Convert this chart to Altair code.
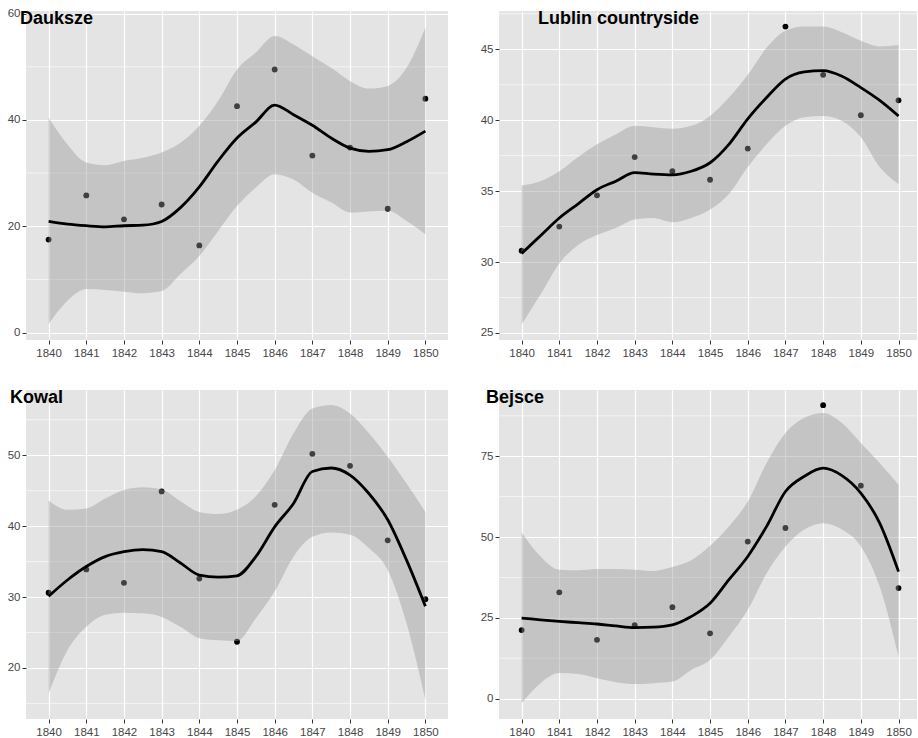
import altair as alt
import pandas as pd

# observation years (points) and the x positions at which the smoothed fit is given
YEARS = [1840, 1841, 1842, 1843, 1844, 1845, 1846, 1847, 1848, 1849, 1850]
FIT_X = [1840, 1840.5, 1841, 1841.5, 1842, 1842.5, 1843, 1843.5, 1844, 1844.5,
         1845, 1845.5, 1846, 1846.5, 1847, 1847.5, 1848, 1848.5, 1849, 1849.5, 1850]

# --- Dauksze ---
DAUKSZE_PTS = [17.5, 25.8, 21.3, 24.1, 16.4, 42.6, 49.5, 33.3, 34.8, 23.3, 44.0]
DAUKSZE_FIT = [20.9, 20.4, 20.1, 19.9, 20.1, 20.2, 20.9, 23.5, 27.4, 32.3, 36.6,
               39.6, 42.8, 41.0, 39.0, 36.6, 34.7, 34.1, 34.4, 35.9, 37.9]
DAUKSZE_HI = [40.4, 35.4, 32.0, 31.5, 32.3, 32.9, 33.9, 35.7, 38.9, 43.6, 49.5,
              52.7, 55.8, 54.2, 52.0, 49.8, 47.3, 45.9, 46.4, 49.8, 57.4]
DAUKSZE_LO = [1.6, 6.0, 8.2, 8.0, 7.7, 7.4, 7.8, 11.0, 14.4, 19.1, 23.8,
              27.3, 29.8, 28.8, 26.3, 24.5, 22.6, 22.8, 22.9, 21.0, 18.5]

# --- Lublin countryside ---
LUBLIN_PTS = [30.8, 32.5, 34.7, 37.4, 36.4, 35.8, 38.0, 46.6, 43.2, 40.35, 41.4]
LUBLIN_FIT = [30.6, 31.85, 33.1, 34.1, 35.1, 35.7, 36.3, 36.2, 36.15, 36.4, 37.0,
              38.3, 40.1, 41.6, 42.9, 43.4, 43.5, 43.1, 42.3, 41.4, 40.3]
LUBLIN_HI = [35.4, 35.7, 36.4, 37.4, 38.3, 39.0, 39.6, 39.5, 39.4, 39.6, 40.3,
             41.6, 43.2, 45.1, 46.3, 46.6, 46.6, 46.2, 45.6, 45.2, 45.3]
LUBLIN_LO = [25.6, 27.7, 29.9, 31.2, 31.9, 32.4, 33.0, 33.1, 32.8, 33.1, 33.7,
             34.8, 36.7, 38.3, 39.6, 40.2, 40.3, 39.95, 38.8, 36.7, 35.5]

# --- Kowal ---
KOWAL_PTS = [30.6, 33.9, 32.0, 44.9, 32.6, 23.7, 43.0, 50.2, 48.5, 38.0, 29.7]
KOWAL_FIT = [30.1, 32.4, 34.3, 35.7, 36.4, 36.7, 36.4, 34.8, 33.1, 32.8, 33.0,
             35.7, 39.9, 43.2, 47.7, 48.2, 47.2, 44.6, 40.9, 35.2, 28.7]
KOWAL_HI = [43.6, 42.3, 42.5, 43.9, 45.1, 45.5, 45.2, 43.5, 42.0, 41.7, 42.3,
            44.2, 47.9, 53.1, 56.6, 57.1, 55.9, 53.1, 49.8, 46.0, 42.0]
KOWAL_LO = [16.4, 22.5, 25.8, 27.5, 27.8, 27.7, 27.2, 25.8, 24.2, 23.9, 23.8,
            27.0, 30.8, 35.7, 38.5, 39.1, 38.8, 36.9, 33.8, 26.3, 15.5]

# --- Bejsce ---
BEJSCE_PTS = [21.2, 32.9, 18.2, 22.7, 28.3, 20.2, 48.6, 52.8, 90.8, 65.9, 34.2]
BEJSCE_FIT = [24.9, 24.4, 23.9, 23.5, 23.1, 22.5, 22.0, 22.1, 22.8, 25.4, 29.5,
              36.8, 44.0, 53.3, 64.1, 68.8, 71.3, 69.0, 63.6, 54.3, 39.3]
BEJSCE_HI = [51.5, 44.0, 39.9, 39.7, 40.1, 40.1, 39.9, 39.5, 40.7, 42.8, 47.3,
             53.3, 61.0, 72.9, 82.2, 86.9, 88.4, 85.3, 79.1, 72.9, 66.2]
BEJSCE_LO = [-1.4, 4.8, 7.9, 7.6, 6.3, 5.1, 4.5, 4.8, 5.3, 8.9, 12.0,
             19.2, 27.5, 38.8, 47.1, 52.3, 54.3, 52.3, 47.1, 34.7, 13.0]

# y-axis breaks (major) and minor gridline positions per panel
DAUKSZE_TICKS, DAUKSZE_MINOR = [0, 20, 40, 60], [10, 30, 50]
LUBLIN_TICKS, LUBLIN_MINOR = [25, 30, 35, 40, 45], [27.5, 32.5, 37.5, 42.5, 47.5]
KOWAL_TICKS, KOWAL_MINOR = [20, 30, 40, 50], [15, 25, 35, 45, 55]
BEJSCE_TICKS, BEJSCE_MINOR = [0, 25, 50, 75], [12.5, 37.5, 62.5, 87.5]

PANEL_H = 329
FONT = "Liberation Sans"


def panel(name, pts, fit, lo, hi, y_domain, y_ticks, y_minor,
          x_domain, width, label_x, label_y):
    pts_df = pd.DataFrame({"year": YEARS, "value": pts})
    fit_df = pd.DataFrame({"year": FIT_X, "fit": fit, "lo": lo, "hi": hi})
    minor_df = pd.DataFrame({"v": y_minor})
    name_df = pd.DataFrame({"label": [name]})

    x_scale = alt.Scale(domain=x_domain, nice=False, zero=False)
    x_axis = alt.Axis(values=YEARS, format="d", title=None, grid=True)
    y_scale = alt.Scale(domain=y_domain, nice=False, zero=False)
    y_axis = alt.Axis(values=y_ticks, title=None, grid=True)

    def X(field):
        return alt.X(field, type="quantitative", scale=x_scale, axis=x_axis)

    def Y(field):
        return alt.Y(field, type="quantitative", scale=y_scale, axis=y_axis)

    minor = alt.Chart(minor_df).mark_rule(color="white", strokeWidth=0.6).encode(y=Y("v"))
    points = alt.Chart(pts_df).mark_circle(size=34, color="black", opacity=1).encode(
        x=X("year"), y=Y("value"))
    band = alt.Chart(fit_df).mark_area(color="#999999", opacity=0.42, interpolate="monotone").encode(
        x=X("year"), y=Y("lo"), y2="hi")
    line = alt.Chart(fit_df).mark_line(color="black", strokeWidth=2.8, interpolate="monotone").encode(
        x=X("year"), y=Y("fit"))
    # panel heading, placed in the top-left corner of the panel
    heading = alt.Chart(name_df).mark_text(
        align="left", baseline="alphabetic", fontSize=18, font=FONT,
        fontWeight="bold", color="black",
    ).encode(text="label:N", x=alt.value(label_x), y=alt.value(label_y))

    return alt.layer(minor, points, band, line, heading).properties(width=width, height=PANEL_H)


p1 = panel("Dauksze", DAUKSZE_PTS, DAUKSZE_FIT, DAUKSZE_LO, DAUKSZE_HI,
           [-1.4, 60.5], DAUKSZE_TICKS, DAUKSZE_MINOR, [1839.4, 1850.6], 422, -6, 13.3)
p2 = panel("Lublin countryside", LUBLIN_PTS, LUBLIN_FIT, LUBLIN_LO, LUBLIN_HI,
           [24.5, 47.7], LUBLIN_TICKS, LUBLIN_MINOR, [1839.4, 1850.49], 418, 39, 13.3)
p3 = panel("Kowal", KOWAL_PTS, KOWAL_FIT, KOWAL_LO, KOWAL_HI,
           [12.8, 59.2], KOWAL_TICKS, KOWAL_MINOR, [1839.4, 1850.6], 422, -16, 13)
p4 = panel("Bejsce", BEJSCE_PTS, BEJSCE_FIT, BEJSCE_LO, BEJSCE_HI,
           [-6.3, 95.5], BEJSCE_TICKS, BEJSCE_MINOR, [1839.4, 1850.49], 418, -13, 13)

chart = (
    alt.concat(p1, p2, p3, p4, columns=2, spacing={"row": 50, "column": 51}, bounds="flush")
    .properties(padding={"left": 7, "top": 7, "right": 0, "bottom": 0}, background="white")
    .configure_view(fill="#E4E4E4", strokeWidth=0)
    .configure_axis(
        labelColor="#474747", labelFontSize=11.5, labelFont=FONT,
        tickColor="#333333", tickSize=4, tickWidth=1, labelPadding=2,
        domain=False, gridColor="white", gridWidth=1.2,
    )
    .configure_axisX(labelPadding=3)
)

chart.save("out.html", embed_options={"renderer": "svg", "actions": False})
